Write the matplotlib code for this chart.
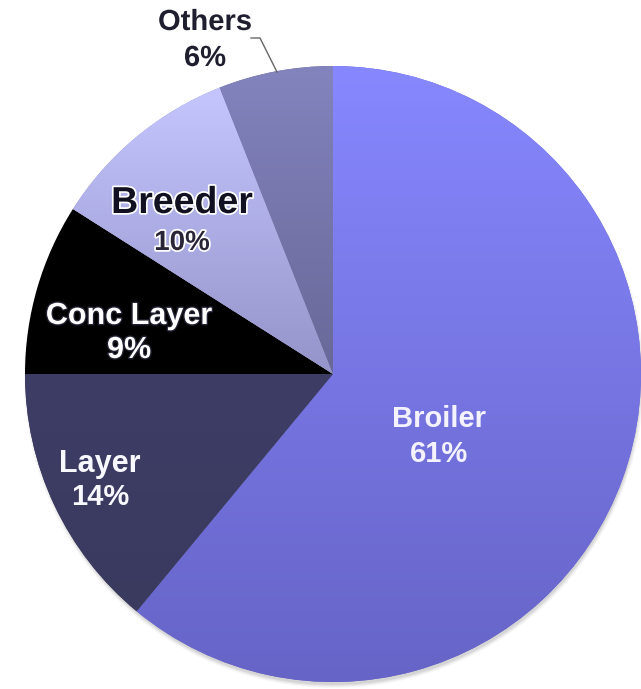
import numpy as np
import matplotlib
matplotlib.use("Agg")
import matplotlib.pyplot as plt
import matplotlib.patheffects as pe
from matplotlib.colors import LinearSegmentedColormap
from matplotlib.patches import Circle

# data
categories = ["Broiler", "Layer", "Conc Layer", "Breeder", "Others"]
shares = [61, 14, 9, 10, 6]

# styling (top colour, bottom colour) per slice
slice_colors = [("#8787FF", "#6664C6"),
                ("#3E3D66", "#3A395E"),
                ("#000000", "#000000"),
                ("#C6C6FF", "#9494CA"),
                ("#8383BE", "#686898")]

W, H = 641, 689
cx, cy, R = 333, 374, 308  # pixel coords (y from top)

# label anchors (name line, pct line) in pixels from top-left
label_pos = {
    "Broiler": (439, 419, 454),
    "Layer": (100, 464, 497),
    "Conc Layer": (129, 316, 350),
    "Breeder": (182, 203, 243),
    "Others": (205, 22, 58),
}

fig = plt.figure(figsize=(W / 100, H / 100), dpi=100)
ax = fig.add_axes([0, 0, 1, 1])

# soft shadow behind the pie, mostly towards the bottom
for k, a in enumerate([0.04, 0.05, 0.07, 0.09]):
    ax.add_patch(Circle((cx + 1, H - cy - 4), R + 2 - k, color="#505050",
                        alpha=a, lw=0, zorder=0))

wedges, _ = ax.pie(shares, startangle=90, counterclock=False,
                   center=(cx, H - cy), radius=R,
                   colors=[c[1] for c in slice_colors],
                   wedgeprops=dict(linewidth=0))

# vertical gradient inside each slice
for w, (top, bot) in zip(wedges, slice_colors):
    if top == bot:
        continue
    v = w.get_path().vertices
    y0, y1 = v[:, 1].min(), v[:, 1].max()
    cmap = LinearSegmentedColormap.from_list("g", [bot, top])
    grad = np.linspace(0, 1, 256).reshape(-1, 1)
    im = ax.imshow(grad, cmap=cmap, origin="lower", aspect="auto",
                   extent=(cx - R, cx + R, y0, y1), zorder=w.get_zorder() + 0.1)
    im.set_clip_path(w)

ax.set_xlim(0, W)
ax.set_ylim(0, H)
ax.set_aspect("equal")
ax.axis("off")

glow_white = [pe.withStroke(linewidth=2.5, foreground="white")]
glow_dark = [pe.withStroke(linewidth=2, foreground="#202030")]
font = ["Liberation Sans", "DejaVu Sans"]

styles = {
    "Broiler": dict(size=21, weight="bold", color="#F4F2FF", fx=None, psize=21),
    "Layer": dict(size=22, weight="bold", color="#F8F8FF", fx=None, psize=21),
    "Conc Layer": dict(size=22, weight="bold", color="white", fx=glow_dark, psize=22),
    "Breeder": dict(size=27, weight="bold", color="#111122", fx=glow_white, psize=20),
    "Others": dict(size=21, weight="bold", color="#1E1E2E", fx=glow_white, psize=21),
}

for name, val in zip(categories, shares):
    x, yn, yp = label_pos[name]
    st = styles[name]
    pct_color = "#2A2438" if name == "Breeder" else st["color"]
    ax.text(x, H - yn, name, ha="center", va="center", fontsize=st["size"],
            fontweight=st["weight"], color=st["color"], family=font,
            path_effects=st["fx"], zorder=5)
    ax.text(x, H - yp, f"{val}%", ha="center", va="center", fontsize=st["psize"],
            fontweight="bold", color=pct_color, family=font,
            path_effects=st["fx"], zorder=5)

# leader line for the small slice
ax.plot([251, 260, 277], [H - 38, H - 38, H - 72], color="#666666", lw=1, zorder=4)

fig.savefig("out.png", dpi=100)
